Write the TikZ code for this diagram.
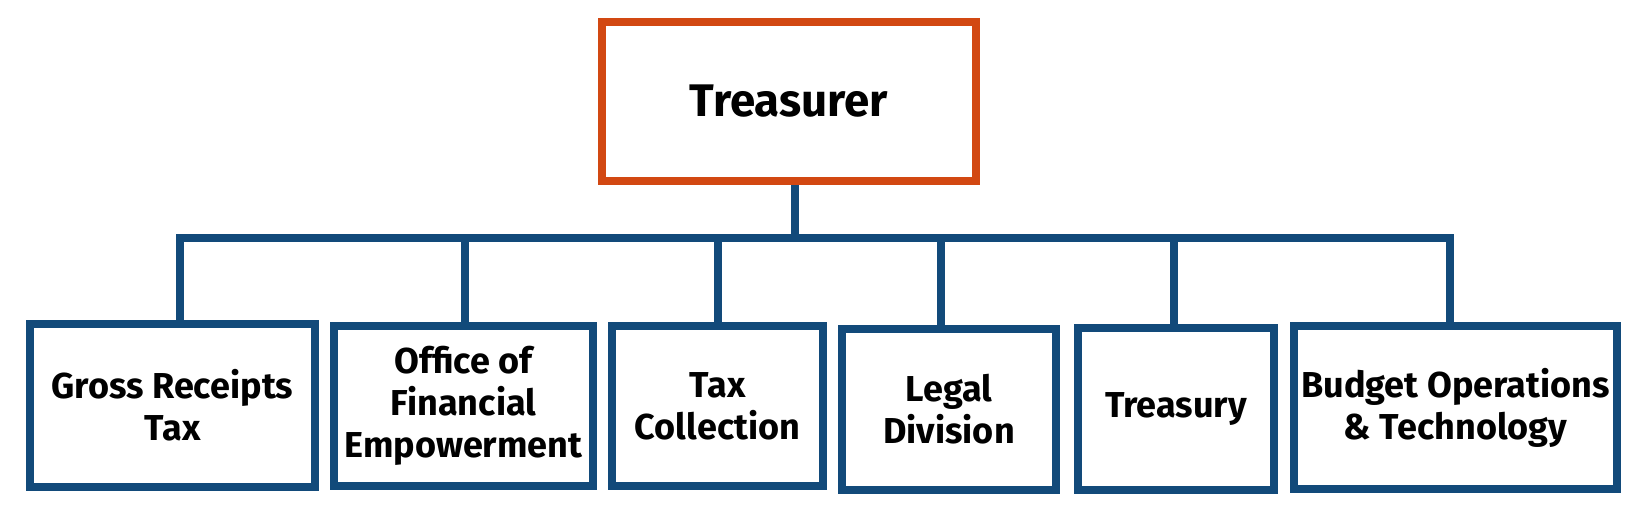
\documentclass[tikz,border=0pt]{standalone}
\usepackage{fontspec}
\setmainfont{Fira Sans}
\usetikzlibrary{backgrounds}

\definecolor{headred}{RGB}{210,72,18}
\definecolor{unitblue}{RGB}{18,74,122}

\begin{document}
\begin{tikzpicture}[x=0.02cm, y=-0.02cm,
        head node/.style={rectangle, draw=headred, line width=0.16cm, font=\fontsize{26}{30}\selectfont\bfseries},
        unit node/.style={rectangle, draw=unitblue, line width=0.16cm, align=center, inner sep=0pt,
            font=\fontsize{20.5}{24}\selectfont\bfseries},
        link/.style={draw=unitblue, line width=0.15cm}]

    \useasboundingbox (0,0) rectangle (1650,525);

    % Head
    \node[head node, minimum width=7.48cm, minimum height=3.18cm] (treasurer) at (789,101.5) {Treasurer};

    % Units
    \node[unit node, minimum width=5.70cm, minimum height=3.26cm] (gross) at (172.5,405.5) {Gross Receipts\\Tax};
    \node[unit node, minimum width=5.18cm, minimum height=3.20cm] (office) at (463.5,406) {Office of\\Financial\\Empowerment};
    \node[unit node, minimum width=4.22cm, minimum height=3.20cm] (collection) at (717.5,406) {Tax\\Collection};
    \node[unit node, minimum width=4.28cm, minimum height=3.22cm] (legal) at (949,409.5) {Legal\\Division};
    \node[unit node, minimum width=3.92cm, minimum height=3.24cm] (treasury) at (1176,409) {Treasury};
    \node[unit node, minimum width=6.46cm, minimum height=3.26cm] (budget) at (1455.5,407.5) {Budget Operations\\\& Technology};

    % Bar points
    \coordinate (top) at (795,238);
    \coordinate (b1) at (180,238);
    \coordinate (b2) at (465,238);
    \coordinate (b3) at (718,238);
    \coordinate (b4) at (941,238);
    \coordinate (b5) at (1174,238);
    \coordinate (b6) at (1450,238);

    % Links
    \begin{scope}[on background layer]
        \draw[link] (treasurer.south -| top) -- (top);
        \draw[link] (b1 |- gross.north) -- (b1) -- (b6) -- (b6 |- budget.north);
        \draw[link] (b2) -- (b2 |- office.north);
        \draw[link] (b3) -- (b3 |- collection.north);
        \draw[link] (b4) -- (b4 |- legal.north);
        \draw[link] (b5) -- (b5 |- treasury.north);
    \end{scope}
\end{tikzpicture}
\end{document}
